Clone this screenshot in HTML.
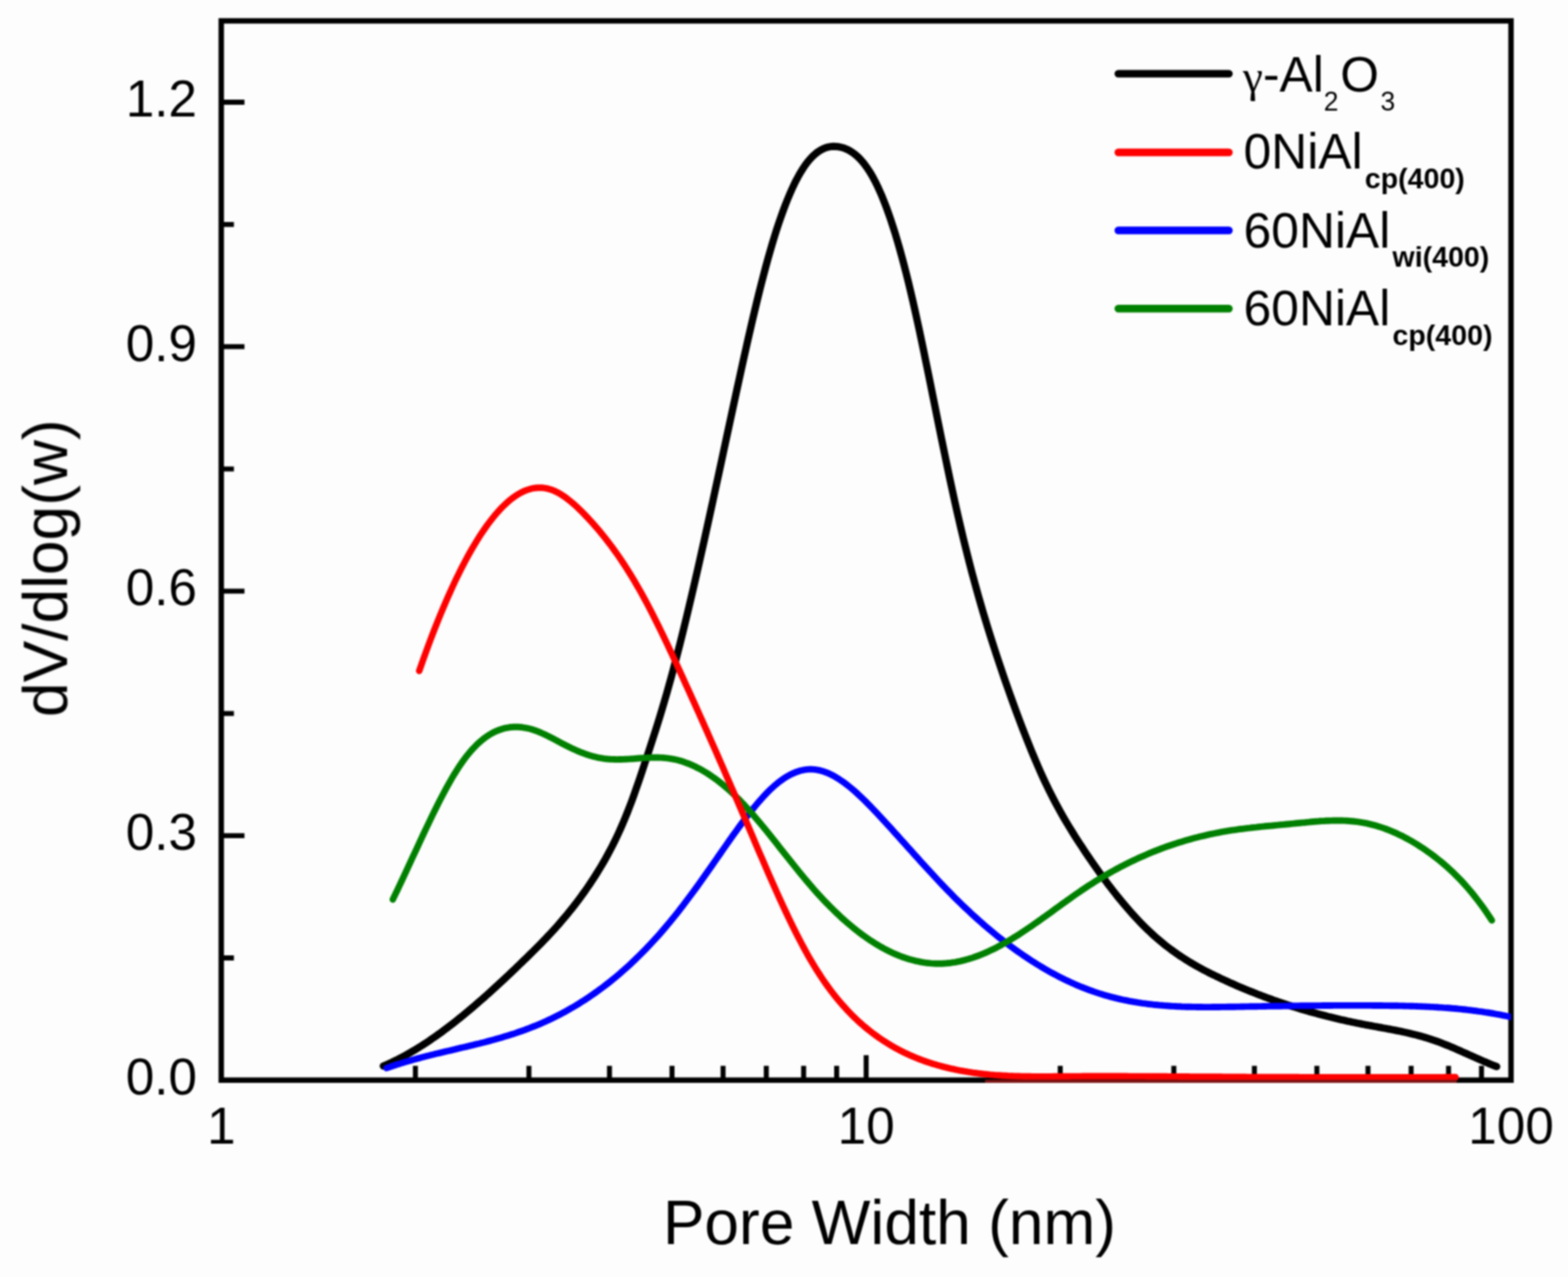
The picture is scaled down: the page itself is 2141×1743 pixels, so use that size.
<!DOCTYPE html>
<html><head><meta charset="utf-8"><title>Pore Width Distribution</title>
<style>
html,body{margin:0;padding:0;background:#fdfdfd;}
body{width:2141px;height:1743px;overflow:hidden;}
svg{display:block;}
text{font-family:"Liberation Sans",sans-serif;fill:#000;}
.tk{font-size:70px;}
.ttl{font-size:85px;}
.lg{font-size:68px;}
.sb{font-size:39px;font-weight:bold;}
.sr{font-size:36px;}
.gm{font-family:"Liberation Serif",serif;font-size:62px;}
</style></head><body>
<svg xmlns="http://www.w3.org/2000/svg" width="2141" height="1743" viewBox="0 0 2141 1743">
<rect x="0" y="0" width="2141" height="1743" fill="#fdfdfd"/>
<g style="filter:blur(1.2px)">
<defs><clipPath id="cp"><rect x="302.1" y="28.5" width="1761.1" height="1451.8"/></clipPath></defs>

<rect x="302.1" y="28.5" width="1761.1" height="1445.8" fill="none" stroke="#000" stroke-width="7.4"/>
<path d="M302.1,1140.6 H333.8 M302.1,806.9 H333.8 M302.1,473.2 H333.8 M302.1,139.5 H333.8 M302.1,1307.5 H319.40000000000003 M302.1,973.8 H319.40000000000003 M302.1,640.1 H319.40000000000003 M302.1,306.4 H319.40000000000003 M1182.7,1474.3 V1440.3 M567.2,1474.3 V1454.8 M722.2,1474.3 V1454.8 M832.2,1474.3 V1454.8 M917.6,1474.3 V1454.8 M987.3,1474.3 V1454.8 M1046.3,1474.3 V1454.8 M1097.3,1474.3 V1454.8 M1142.4,1474.3 V1454.8 M1447.7,1474.3 V1454.8 M1602.8,1474.3 V1454.8 M1712.8,1474.3 V1454.8 M1798.1,1474.3 V1454.8 M1867.9,1474.3 V1454.8 M1926.8,1474.3 V1454.8 M1977.9,1474.3 V1454.8 M2022.9,1474.3 V1454.8" fill="none" stroke="#000" stroke-width="6.8"/>
<g clip-path="url(#cp)" fill="none" stroke-width="8.9" stroke-linecap="round" stroke-linejoin="round">
<path d="M523.4,1455.1 L526.4,1453.8 L529.4,1452.5 L532.4,1451.2 L535.4,1449.8 L538.4,1448.3 L541.4,1446.9 L544.4,1445.3 L547.4,1443.8 L550.4,1442.2 L553.4,1440.6 L556.4,1438.9 L559.4,1437.2 L562.4,1435.4 L565.4,1433.7 L568.4,1431.9 L571.4,1430.0 L574.4,1428.1 L577.4,1426.2 L580.4,1424.3 L583.4,1422.3 L586.4,1420.3 L589.4,1418.2 L592.4,1416.2 L595.4,1414.1 L598.4,1411.9 L601.4,1409.8 L604.4,1407.6 L607.4,1405.3 L610.4,1403.1 L613.4,1400.8 L616.4,1398.5 L619.4,1396.2 L622.4,1393.8 L625.4,1391.4 L628.4,1389.0 L631.4,1386.6 L634.4,1384.1 L637.4,1381.7 L640.4,1379.2 L643.4,1376.6 L646.4,1374.1 L649.4,1371.5 L652.4,1368.9 L655.4,1366.3 L658.4,1363.7 L661.4,1361.1 L664.4,1358.4 L667.4,1355.7 L670.4,1353.0 L673.4,1350.3 L676.4,1347.5 L679.4,1344.8 L682.4,1342.0 L685.4,1339.3 L688.4,1336.5 L691.4,1333.6 L694.4,1330.8 L697.4,1328.0 L700.4,1325.1 L703.4,1322.3 L706.4,1319.4 L709.4,1316.5 L712.4,1313.6 L715.4,1310.7 L718.4,1307.8 L721.4,1304.9 L724.4,1301.9 L727.4,1299.0 L730.4,1296.0 L733.4,1293.0 L736.4,1290.0 L739.4,1286.9 L742.4,1283.8 L745.4,1280.7 L748.4,1277.5 L751.4,1274.3 L754.4,1271.1 L757.4,1267.8 L760.4,1264.5 L763.4,1261.1 L766.4,1257.6 L769.4,1254.1 L772.4,1250.6 L775.4,1246.9 L778.4,1243.2 L781.4,1239.5 L784.4,1235.6 L787.4,1231.7 L790.4,1227.7 L793.4,1223.7 L796.4,1219.5 L799.4,1215.3 L802.4,1211.0 L805.4,1206.6 L808.4,1202.0 L811.4,1197.4 L814.4,1192.7 L817.4,1187.9 L820.4,1183.0 L823.4,1177.9 L826.4,1172.7 L829.4,1167.3 L832.4,1161.7 L835.4,1156.0 L838.4,1150.0 L841.4,1143.9 L844.4,1137.5 L847.4,1130.9 L850.4,1124.0 L853.4,1116.9 L856.4,1109.5 L859.4,1101.8 L862.4,1093.9 L865.4,1085.7 L868.4,1077.2 L871.4,1068.6 L874.4,1059.8 L877.4,1050.9 L880.4,1041.8 L883.4,1032.8 L886.4,1023.7 L889.4,1014.5 L892.4,1005.3 L895.4,995.9 L898.4,986.4 L901.4,976.7 L904.4,966.8 L907.4,956.7 L910.4,946.3 L913.4,935.7 L916.4,924.8 L919.4,913.7 L922.4,902.3 L925.4,890.7 L928.4,878.9 L931.4,867.0 L934.4,854.8 L937.4,842.4 L940.4,829.9 L943.4,817.2 L946.4,804.4 L949.4,791.4 L952.4,778.3 L955.4,765.1 L958.4,751.7 L961.4,738.3 L964.4,724.7 L967.4,711.1 L970.4,697.4 L973.4,683.7 L976.4,669.8 L979.4,656.0 L982.4,642.1 L985.4,628.2 L988.4,614.3 L991.4,600.3 L994.4,586.4 L997.4,572.5 L1000.4,558.6 L1003.4,544.7 L1006.4,530.9 L1009.4,517.2 L1012.4,503.5 L1015.4,489.9 L1018.4,476.5 L1021.4,463.2 L1024.4,450.1 L1027.4,437.2 L1030.4,424.5 L1033.4,412.0 L1036.4,399.8 L1039.4,387.9 L1042.4,376.2 L1045.4,364.9 L1048.4,353.9 L1051.4,343.3 L1054.4,333.0 L1057.4,323.1 L1060.4,313.6 L1063.4,304.5 L1066.4,295.8 L1069.4,287.5 L1072.4,279.5 L1075.4,272.0 L1078.4,264.8 L1081.4,258.0 L1084.4,251.6 L1087.4,245.6 L1090.4,240.0 L1093.4,234.8 L1096.4,230.0 L1099.4,225.5 L1102.4,221.5 L1105.4,217.9 L1108.4,214.6 L1111.4,211.7 L1114.4,209.1 L1117.4,206.9 L1120.4,205.0 L1123.4,203.4 L1126.4,202.1 L1129.4,201.1 L1132.4,200.4 L1135.4,200.0 L1138.4,199.8 L1141.4,199.9 L1144.4,200.2 L1147.4,200.8 L1150.4,201.5 L1153.4,202.5 L1156.4,203.8 L1159.4,205.3 L1162.4,207.1 L1165.4,209.1 L1168.4,211.5 L1171.4,214.1 L1174.4,217.1 L1177.4,220.5 L1180.4,224.2 L1183.4,228.2 L1186.4,232.7 L1189.4,237.5 L1192.4,242.8 L1195.4,248.5 L1198.4,254.6 L1201.4,261.2 L1204.4,268.1 L1207.4,275.6 L1210.4,283.4 L1213.4,291.7 L1216.4,300.4 L1219.4,309.6 L1222.4,319.1 L1225.4,329.1 L1228.4,339.5 L1231.4,350.3 L1234.4,361.6 L1237.4,373.2 L1240.4,385.3 L1243.4,397.8 L1246.4,410.6 L1249.4,423.9 L1252.4,437.5 L1255.4,451.3 L1258.4,465.5 L1261.4,479.8 L1264.4,494.4 L1267.4,509.0 L1270.4,523.8 L1273.4,538.7 L1276.4,553.5 L1279.4,568.4 L1282.4,583.3 L1285.4,598.0 L1288.4,612.6 L1291.4,627.1 L1294.4,641.4 L1297.4,655.6 L1300.4,669.5 L1303.4,683.2 L1306.4,696.6 L1309.4,709.7 L1312.4,722.5 L1315.4,735.1 L1318.4,747.3 L1321.4,759.3 L1324.4,771.0 L1327.4,782.4 L1330.4,793.5 L1333.4,804.4 L1336.4,815.1 L1339.4,825.5 L1342.4,835.8 L1345.4,845.8 L1348.4,855.6 L1351.4,865.2 L1354.4,874.7 L1357.4,884.0 L1360.4,893.2 L1363.4,902.3 L1366.4,911.2 L1369.4,920.1 L1372.4,928.8 L1375.4,937.3 L1378.4,945.8 L1381.4,954.2 L1384.4,962.5 L1387.4,970.7 L1390.4,978.7 L1393.4,986.7 L1396.4,994.6 L1399.4,1002.3 L1402.4,1009.9 L1405.4,1017.4 L1408.4,1024.8 L1411.4,1032.0 L1414.4,1039.1 L1417.4,1046.1 L1420.4,1052.9 L1423.4,1059.6 L1426.4,1066.1 L1429.4,1072.4 L1432.4,1078.6 L1435.4,1084.6 L1438.4,1090.4 L1441.4,1096.1 L1444.4,1101.7 L1447.4,1107.2 L1450.4,1112.5 L1453.4,1117.7 L1456.4,1122.8 L1459.4,1127.8 L1462.4,1132.7 L1465.4,1137.5 L1468.4,1142.3 L1471.4,1146.9 L1474.4,1151.6 L1477.4,1156.1 L1480.4,1160.7 L1483.4,1165.2 L1486.4,1169.6 L1489.4,1174.0 L1492.4,1178.3 L1495.4,1182.6 L1498.4,1186.9 L1501.4,1191.1 L1504.4,1195.2 L1507.4,1199.3 L1510.4,1203.4 L1513.4,1207.4 L1516.4,1211.3 L1519.4,1215.2 L1522.4,1219.0 L1525.4,1222.8 L1528.4,1226.5 L1531.4,1230.2 L1534.4,1233.8 L1537.4,1237.3 L1540.4,1240.8 L1543.4,1244.2 L1546.4,1247.6 L1549.4,1250.9 L1552.4,1254.1 L1555.4,1257.3 L1558.4,1260.4 L1561.4,1263.5 L1564.4,1266.5 L1567.4,1269.4 L1570.4,1272.2 L1573.4,1275.0 L1576.4,1277.7 L1579.4,1280.4 L1582.4,1282.9 L1585.4,1285.4 L1588.4,1287.9 L1591.4,1290.3 L1594.4,1292.6 L1597.4,1294.9 L1600.4,1297.1 L1603.4,1299.3 L1606.4,1301.4 L1609.4,1303.5 L1612.4,1305.5 L1615.4,1307.4 L1618.4,1309.4 L1621.4,1311.2 L1624.4,1313.1 L1627.4,1314.9 L1630.4,1316.6 L1633.4,1318.3 L1636.4,1320.0 L1639.4,1321.7 L1642.4,1323.3 L1645.4,1324.9 L1648.4,1326.4 L1651.4,1328.0 L1654.4,1329.5 L1657.4,1330.9 L1660.4,1332.4 L1663.4,1333.8 L1666.4,1335.3 L1669.4,1336.7 L1672.4,1338.0 L1675.4,1339.4 L1678.4,1340.8 L1681.4,1342.1 L1684.4,1343.4 L1687.4,1344.8 L1690.4,1346.1 L1693.4,1347.3 L1696.4,1348.6 L1699.4,1349.9 L1702.4,1351.1 L1705.4,1352.3 L1708.4,1353.5 L1711.4,1354.7 L1714.4,1355.9 L1717.4,1357.1 L1720.4,1358.2 L1723.4,1359.4 L1726.4,1360.5 L1729.4,1361.6 L1732.4,1362.7 L1735.4,1363.8 L1738.4,1364.9 L1741.4,1365.9 L1744.4,1367.0 L1747.4,1368.0 L1750.4,1369.0 L1753.4,1370.0 L1756.4,1371.0 L1759.4,1372.0 L1762.4,1372.9 L1765.4,1373.9 L1768.4,1374.8 L1771.4,1375.8 L1774.4,1376.7 L1777.4,1377.6 L1780.4,1378.5 L1783.4,1379.3 L1786.4,1380.2 L1789.4,1381.1 L1792.4,1381.9 L1795.4,1382.7 L1798.4,1383.5 L1801.4,1384.4 L1804.4,1385.1 L1807.4,1385.9 L1810.4,1386.7 L1813.4,1387.5 L1816.4,1388.2 L1819.4,1388.9 L1822.4,1389.7 L1825.4,1390.4 L1828.4,1391.1 L1831.4,1391.8 L1834.4,1392.4 L1837.4,1393.1 L1840.4,1393.8 L1843.4,1394.4 L1846.4,1395.1 L1849.4,1395.7 L1852.4,1396.3 L1855.4,1396.9 L1858.4,1397.5 L1861.4,1398.1 L1864.4,1398.7 L1867.4,1399.2 L1870.4,1399.8 L1873.4,1400.3 L1876.4,1400.9 L1879.4,1401.4 L1882.4,1402.0 L1885.4,1402.5 L1888.4,1403.1 L1891.4,1403.6 L1894.4,1404.2 L1897.4,1404.7 L1900.4,1405.3 L1903.4,1405.9 L1906.4,1406.5 L1909.4,1407.1 L1912.4,1407.7 L1915.4,1408.3 L1918.4,1409.0 L1921.4,1409.7 L1924.4,1410.3 L1927.4,1411.1 L1930.4,1411.8 L1933.4,1412.5 L1936.4,1413.3 L1939.4,1414.1 L1942.4,1415.0 L1945.4,1415.9 L1948.4,1416.8 L1951.4,1417.7 L1954.4,1418.7 L1957.4,1419.7 L1960.4,1420.7 L1963.4,1421.8 L1966.4,1422.9 L1969.4,1424.1 L1972.4,1425.3 L1975.4,1426.5 L1978.4,1427.7 L1981.4,1429.0 L1984.4,1430.2 L1987.4,1431.5 L1990.4,1432.8 L1993.4,1434.1 L1996.4,1435.5 L1999.4,1436.8 L2002.4,1438.1 L2005.4,1439.5 L2008.4,1440.8 L2011.4,1442.2 L2014.4,1443.5 L2017.4,1444.8 L2020.4,1446.2 L2023.4,1447.5 L2026.4,1448.8 L2029.4,1450.0 L2032.4,1451.3 L2035.4,1452.6 L2038.4,1453.8 L2041.4,1455.0 L2043.6,1455.8" stroke="#000000" stroke-width="10"/>
<path d="M527.8,1457.9 L530.8,1456.9 L533.8,1455.8 L536.8,1454.8 L539.8,1453.8 L542.8,1452.8 L545.8,1451.9 L548.8,1450.9 L551.8,1450.0 L554.8,1449.1 L557.8,1448.3 L560.8,1447.4 L563.8,1446.5 L566.8,1445.7 L569.8,1444.9 L572.8,1444.1 L575.8,1443.3 L578.8,1442.5 L581.8,1441.7 L584.8,1441.0 L587.8,1440.2 L590.8,1439.5 L593.8,1438.7 L596.8,1438.0 L599.8,1437.3 L602.8,1436.6 L605.8,1435.9 L608.8,1435.2 L611.8,1434.5 L614.8,1433.8 L617.8,1433.1 L620.8,1432.4 L623.8,1431.6 L626.8,1430.9 L629.8,1430.2 L632.8,1429.5 L635.8,1428.8 L638.8,1428.1 L641.8,1427.4 L644.8,1426.7 L647.8,1425.9 L650.8,1425.2 L653.8,1424.5 L656.8,1423.7 L659.8,1423.0 L662.8,1422.2 L665.8,1421.4 L668.8,1420.6 L671.8,1419.8 L674.8,1419.0 L677.8,1418.1 L680.8,1417.3 L683.8,1416.4 L686.8,1415.5 L689.8,1414.6 L692.8,1413.7 L695.8,1412.8 L698.8,1411.8 L701.8,1410.9 L704.8,1409.9 L707.8,1408.8 L710.8,1407.8 L713.8,1406.7 L716.8,1405.7 L719.8,1404.5 L722.8,1403.4 L725.8,1402.2 L728.8,1401.0 L731.8,1399.8 L734.8,1398.6 L737.8,1397.3 L740.8,1396.0 L743.8,1394.7 L746.8,1393.3 L749.8,1391.9 L752.8,1390.5 L755.8,1389.0 L758.8,1387.5 L761.8,1386.0 L764.8,1384.5 L767.8,1382.9 L770.8,1381.3 L773.8,1379.6 L776.8,1377.9 L779.8,1376.2 L782.8,1374.5 L785.8,1372.7 L788.8,1370.9 L791.8,1369.0 L794.8,1367.1 L797.8,1365.2 L800.8,1363.2 L803.8,1361.3 L806.8,1359.2 L809.8,1357.1 L812.8,1355.0 L815.8,1352.9 L818.8,1350.7 L821.8,1348.5 L824.8,1346.2 L827.8,1343.9 L830.8,1341.6 L833.8,1339.2 L836.8,1336.8 L839.8,1334.3 L842.8,1331.8 L845.8,1329.3 L848.8,1326.7 L851.8,1324.0 L854.8,1321.4 L857.8,1318.7 L860.8,1315.9 L863.8,1313.1 L866.8,1310.2 L869.8,1307.3 L872.8,1304.4 L875.8,1301.4 L878.8,1298.4 L881.8,1295.3 L884.8,1292.2 L887.8,1289.0 L890.8,1285.8 L893.8,1282.5 L896.8,1279.2 L899.8,1275.9 L902.8,1272.5 L905.8,1269.0 L908.8,1265.5 L911.8,1261.9 L914.8,1258.3 L917.8,1254.7 L920.8,1251.0 L923.8,1247.2 L926.8,1243.4 L929.8,1239.5 L932.8,1235.7 L935.8,1231.7 L938.8,1227.7 L941.8,1223.7 L944.8,1219.7 L947.8,1215.6 L950.8,1211.5 L953.8,1207.3 L956.8,1203.1 L959.8,1198.9 L962.8,1194.7 L965.8,1190.4 L968.8,1186.2 L971.8,1181.9 L974.8,1177.5 L977.8,1173.2 L980.8,1168.9 L983.8,1164.6 L986.8,1160.3 L989.8,1156.0 L992.8,1151.7 L995.8,1147.4 L998.8,1143.2 L1001.8,1138.9 L1004.8,1134.8 L1007.8,1130.6 L1010.8,1126.5 L1013.8,1122.5 L1016.8,1118.5 L1019.8,1114.5 L1022.8,1110.7 L1025.8,1106.8 L1028.8,1103.1 L1031.8,1099.5 L1034.8,1095.9 L1037.8,1092.5 L1040.8,1089.1 L1043.8,1085.8 L1046.8,1082.7 L1049.8,1079.7 L1052.8,1076.7 L1055.8,1074.0 L1058.8,1071.3 L1061.8,1068.8 L1064.8,1066.5 L1067.8,1064.3 L1070.8,1062.2 L1073.8,1060.3 L1076.8,1058.6 L1079.8,1057.0 L1082.8,1055.6 L1085.8,1054.3 L1088.8,1053.2 L1091.8,1052.2 L1094.8,1051.5 L1097.8,1050.8 L1100.8,1050.4 L1103.8,1050.1 L1106.8,1050.0 L1109.8,1050.1 L1112.8,1050.4 L1115.8,1050.8 L1118.8,1051.4 L1121.8,1052.2 L1124.8,1053.1 L1127.8,1054.2 L1130.8,1055.4 L1133.8,1056.8 L1136.8,1058.3 L1139.8,1059.9 L1142.8,1061.7 L1145.8,1063.6 L1148.8,1065.6 L1151.8,1067.7 L1154.8,1069.9 L1157.8,1072.2 L1160.8,1074.6 L1163.8,1077.1 L1166.8,1079.7 L1169.8,1082.4 L1172.8,1085.2 L1175.8,1088.0 L1178.8,1090.9 L1181.8,1093.8 L1184.8,1096.8 L1187.8,1099.9 L1190.8,1103.0 L1193.8,1106.1 L1196.8,1109.3 L1199.8,1112.5 L1202.8,1115.7 L1205.8,1119.0 L1208.8,1122.2 L1211.8,1125.5 L1214.8,1128.8 L1217.8,1132.1 L1220.8,1135.4 L1223.8,1138.8 L1226.8,1142.1 L1229.8,1145.4 L1232.8,1148.8 L1235.8,1152.1 L1238.8,1155.4 L1241.8,1158.8 L1244.8,1162.1 L1247.8,1165.4 L1250.8,1168.8 L1253.8,1172.1 L1256.8,1175.4 L1259.8,1178.7 L1262.8,1182.0 L1265.8,1185.3 L1268.8,1188.6 L1271.8,1191.8 L1274.8,1195.1 L1277.8,1198.3 L1280.8,1201.5 L1283.8,1204.7 L1286.8,1207.8 L1289.8,1211.0 L1292.8,1214.1 L1295.8,1217.2 L1298.8,1220.2 L1301.8,1223.3 L1304.8,1226.3 L1307.8,1229.2 L1310.8,1232.2 L1313.8,1235.1 L1316.8,1238.0 L1319.8,1240.8 L1322.8,1243.6 L1325.8,1246.4 L1328.8,1249.2 L1331.8,1251.9 L1334.8,1254.6 L1337.8,1257.3 L1340.8,1259.9 L1343.8,1262.6 L1346.8,1265.1 L1349.8,1267.7 L1352.8,1270.2 L1355.8,1272.7 L1358.8,1275.1 L1361.8,1277.6 L1364.8,1280.0 L1367.8,1282.3 L1370.8,1284.7 L1373.8,1287.0 L1376.8,1289.2 L1379.8,1291.5 L1382.8,1293.7 L1385.8,1295.9 L1388.8,1298.0 L1391.8,1300.1 L1394.8,1302.2 L1397.8,1304.3 L1400.8,1306.3 L1403.8,1308.3 L1406.8,1310.3 L1409.8,1312.2 L1412.8,1314.1 L1415.8,1316.0 L1418.8,1317.8 L1421.8,1319.6 L1424.8,1321.4 L1427.8,1323.2 L1430.8,1324.9 L1433.8,1326.6 L1436.8,1328.2 L1439.8,1329.8 L1442.8,1331.4 L1445.8,1333.0 L1448.8,1334.5 L1451.8,1336.0 L1454.8,1337.5 L1457.8,1338.9 L1460.8,1340.3 L1463.8,1341.7 L1466.8,1343.0 L1469.8,1344.3 L1472.8,1345.6 L1475.8,1346.8 L1478.8,1348.0 L1481.8,1349.2 L1484.8,1350.3 L1487.8,1351.5 L1490.8,1352.5 L1493.8,1353.6 L1496.8,1354.6 L1499.8,1355.6 L1502.8,1356.6 L1505.8,1357.5 L1508.8,1358.4 L1511.8,1359.2 L1514.8,1360.1 L1517.8,1360.9 L1520.8,1361.6 L1523.8,1362.4 L1526.8,1363.1 L1529.8,1363.8 L1532.8,1364.5 L1535.8,1365.1 L1538.8,1365.7 L1541.8,1366.3 L1544.8,1366.8 L1547.8,1367.4 L1550.8,1367.9 L1553.8,1368.4 L1556.8,1368.8 L1559.8,1369.3 L1562.8,1369.7 L1565.8,1370.1 L1568.8,1370.5 L1571.8,1370.8 L1574.8,1371.2 L1577.8,1371.5 L1580.8,1371.8 L1583.8,1372.1 L1586.8,1372.3 L1589.8,1372.6 L1592.8,1372.8 L1595.8,1373.0 L1598.8,1373.2 L1601.8,1373.4 L1604.8,1373.5 L1607.8,1373.7 L1610.8,1373.8 L1613.8,1374.0 L1616.8,1374.1 L1619.8,1374.2 L1622.8,1374.3 L1625.8,1374.3 L1628.8,1374.4 L1631.8,1374.4 L1634.8,1374.5 L1637.8,1374.5 L1640.8,1374.5 L1643.8,1374.6 L1646.8,1374.6 L1649.8,1374.6 L1652.8,1374.6 L1655.8,1374.5 L1658.8,1374.5 L1661.8,1374.5 L1664.8,1374.5 L1667.8,1374.4 L1670.8,1374.4 L1673.8,1374.4 L1676.8,1374.3 L1679.8,1374.3 L1682.8,1374.2 L1685.8,1374.2 L1688.8,1374.1 L1691.8,1374.1 L1694.8,1374.0 L1697.8,1374.0 L1700.8,1373.9 L1703.8,1373.9 L1706.8,1373.8 L1709.8,1373.8 L1712.8,1373.7 L1715.8,1373.7 L1718.8,1373.6 L1721.8,1373.6 L1724.8,1373.5 L1727.8,1373.5 L1730.8,1373.4 L1733.8,1373.4 L1736.8,1373.3 L1739.8,1373.3 L1742.8,1373.3 L1745.8,1373.2 L1748.8,1373.2 L1751.8,1373.1 L1754.8,1373.1 L1757.8,1373.0 L1760.8,1373.0 L1763.8,1373.0 L1766.8,1372.9 L1769.8,1372.9 L1772.8,1372.9 L1775.8,1372.8 L1778.8,1372.8 L1781.8,1372.8 L1784.8,1372.7 L1787.8,1372.7 L1790.8,1372.7 L1793.8,1372.6 L1796.8,1372.6 L1799.8,1372.6 L1802.8,1372.6 L1805.8,1372.5 L1808.8,1372.5 L1811.8,1372.5 L1814.8,1372.5 L1817.8,1372.5 L1820.8,1372.4 L1823.8,1372.4 L1826.8,1372.4 L1829.8,1372.4 L1832.8,1372.4 L1835.8,1372.4 L1838.8,1372.4 L1841.8,1372.4 L1844.8,1372.4 L1847.8,1372.4 L1850.8,1372.4 L1853.8,1372.4 L1856.8,1372.4 L1859.8,1372.4 L1862.8,1372.4 L1865.8,1372.4 L1868.8,1372.4 L1871.8,1372.4 L1874.8,1372.5 L1877.8,1372.5 L1880.8,1372.5 L1883.8,1372.5 L1886.8,1372.5 L1889.8,1372.6 L1892.8,1372.6 L1895.8,1372.6 L1898.8,1372.7 L1901.8,1372.7 L1904.8,1372.8 L1907.8,1372.8 L1910.8,1372.9 L1913.8,1372.9 L1916.8,1373.0 L1919.8,1373.1 L1922.8,1373.1 L1925.8,1373.2 L1928.8,1373.3 L1931.8,1373.4 L1934.8,1373.5 L1937.8,1373.6 L1940.8,1373.7 L1943.8,1373.9 L1946.8,1374.0 L1949.8,1374.1 L1952.8,1374.3 L1955.8,1374.4 L1958.8,1374.6 L1961.8,1374.8 L1964.8,1375.0 L1967.8,1375.1 L1970.8,1375.4 L1973.8,1375.6 L1976.8,1375.8 L1979.8,1376.0 L1982.8,1376.3 L1985.8,1376.5 L1988.8,1376.8 L1991.8,1377.1 L1994.8,1377.4 L1997.8,1377.7 L2000.8,1378.0 L2003.8,1378.4 L2006.8,1378.7 L2009.8,1379.1 L2012.8,1379.5 L2015.8,1379.8 L2018.8,1380.3 L2021.8,1380.7 L2024.8,1381.1 L2027.8,1381.6 L2030.8,1382.0 L2033.8,1382.5 L2036.8,1383.0 L2039.8,1383.5 L2042.8,1384.1 L2045.8,1384.6 L2048.8,1385.2 L2051.8,1385.8 L2054.8,1386.4 L2057.8,1387.0 L2060.8,1387.7 L2063.8,1388.3 L2066.8,1389.0 L2069.8,1389.7 L2072.8,1390.4 L2075.0,1391.0" stroke="#0000ff"/>
<path d="M536.4,1227.7 L539.4,1221.4 L542.4,1215.2 L545.4,1208.8 L548.4,1202.5 L551.4,1196.1 L554.4,1189.6 L557.4,1183.2 L560.4,1176.7 L563.4,1170.2 L566.4,1163.8 L569.4,1157.3 L572.4,1150.8 L575.4,1144.4 L578.4,1138.0 L581.4,1131.7 L584.4,1125.4 L587.4,1119.1 L590.4,1112.9 L593.4,1106.8 L596.4,1100.7 L599.4,1094.8 L602.4,1089.0 L605.4,1083.2 L608.4,1077.6 L611.4,1072.2 L614.4,1066.8 L617.4,1061.6 L620.4,1056.6 L623.4,1051.8 L626.4,1047.1 L629.4,1042.7 L632.4,1038.4 L635.4,1034.3 L638.4,1030.5 L641.4,1026.9 L644.4,1023.4 L647.4,1020.2 L650.4,1017.1 L653.4,1014.3 L656.4,1011.6 L659.4,1009.1 L662.4,1006.8 L665.4,1004.7 L668.4,1002.8 L671.4,1001.0 L674.4,999.4 L677.4,998.0 L680.4,996.8 L683.4,995.7 L686.4,994.7 L689.4,993.9 L692.4,993.3 L695.4,992.8 L698.4,992.5 L701.4,992.3 L704.4,992.2 L707.4,992.3 L710.4,992.5 L713.4,992.8 L716.4,993.3 L719.4,993.8 L722.4,994.5 L725.4,995.3 L728.4,996.3 L731.4,997.3 L734.4,998.4 L737.4,999.7 L740.4,1001.0 L743.4,1002.3 L746.4,1003.8 L749.4,1005.2 L752.4,1006.8 L755.4,1008.3 L758.4,1009.9 L761.4,1011.5 L764.4,1013.1 L767.4,1014.7 L770.4,1016.2 L773.4,1017.8 L776.4,1019.3 L779.4,1020.8 L782.4,1022.2 L785.4,1023.5 L788.4,1024.8 L791.4,1026.1 L794.4,1027.3 L797.4,1028.4 L800.4,1029.5 L803.4,1030.5 L806.4,1031.4 L809.4,1032.3 L812.4,1033.0 L815.4,1033.8 L818.4,1034.4 L821.4,1034.9 L824.4,1035.4 L827.4,1035.8 L830.4,1036.1 L833.4,1036.3 L836.4,1036.4 L839.4,1036.5 L842.4,1036.6 L845.4,1036.5 L848.4,1036.5 L851.4,1036.4 L854.4,1036.2 L857.4,1036.1 L860.4,1035.9 L863.4,1035.7 L866.4,1035.5 L869.4,1035.2 L872.4,1035.0 L875.4,1034.8 L878.4,1034.6 L881.4,1034.4 L884.4,1034.3 L887.4,1034.1 L890.4,1034.0 L893.4,1034.0 L896.4,1034.0 L899.4,1034.0 L902.4,1034.1 L905.4,1034.3 L908.4,1034.6 L911.4,1034.9 L914.4,1035.3 L917.4,1035.8 L920.4,1036.4 L923.4,1037.0 L926.4,1037.8 L929.4,1038.6 L932.4,1039.5 L935.4,1040.6 L938.4,1041.7 L941.4,1042.8 L944.4,1044.1 L947.4,1045.5 L950.4,1046.9 L953.4,1048.4 L956.4,1050.0 L959.4,1051.7 L962.4,1053.5 L965.4,1055.3 L968.4,1057.3 L971.4,1059.3 L974.4,1061.4 L977.4,1063.5 L980.4,1065.8 L983.4,1068.1 L986.4,1070.5 L989.4,1073.0 L992.4,1075.6 L995.4,1078.3 L998.4,1081.0 L1001.4,1083.8 L1004.4,1086.7 L1007.4,1089.6 L1010.4,1092.7 L1013.4,1095.8 L1016.4,1098.9 L1019.4,1102.2 L1022.4,1105.5 L1025.4,1108.9 L1028.4,1112.3 L1031.4,1115.8 L1034.4,1119.3 L1037.4,1122.9 L1040.4,1126.5 L1043.4,1130.1 L1046.4,1133.8 L1049.4,1137.5 L1052.4,1141.3 L1055.4,1145.0 L1058.4,1148.8 L1061.4,1152.6 L1064.4,1156.4 L1067.4,1160.2 L1070.4,1164.0 L1073.4,1167.8 L1076.4,1171.5 L1079.4,1175.3 L1082.4,1179.1 L1085.4,1182.8 L1088.4,1186.6 L1091.4,1190.3 L1094.4,1193.9 L1097.4,1197.5 L1100.4,1201.1 L1103.4,1204.7 L1106.4,1208.2 L1109.4,1211.7 L1112.4,1215.1 L1115.4,1218.4 L1118.4,1221.7 L1121.4,1225.0 L1124.4,1228.2 L1127.4,1231.3 L1130.4,1234.4 L1133.4,1237.5 L1136.4,1240.4 L1139.4,1243.4 L1142.4,1246.3 L1145.4,1249.1 L1148.4,1251.9 L1151.4,1254.6 L1154.4,1257.3 L1157.4,1259.9 L1160.4,1262.4 L1163.4,1264.9 L1166.4,1267.4 L1169.4,1269.7 L1172.4,1272.1 L1175.4,1274.3 L1178.4,1276.6 L1181.4,1278.7 L1184.4,1280.8 L1187.4,1282.9 L1190.4,1284.8 L1193.4,1286.8 L1196.4,1288.6 L1199.4,1290.4 L1202.4,1292.2 L1205.4,1293.8 L1208.4,1295.5 L1211.4,1297.0 L1214.4,1298.5 L1217.4,1300.0 L1220.4,1301.3 L1223.4,1302.6 L1226.4,1303.9 L1229.4,1305.1 L1232.4,1306.2 L1235.4,1307.3 L1238.4,1308.2 L1241.4,1309.2 L1244.4,1310.0 L1247.4,1310.8 L1250.4,1311.6 L1253.4,1312.2 L1256.4,1312.8 L1259.4,1313.4 L1262.4,1313.9 L1265.4,1314.3 L1268.4,1314.6 L1271.4,1314.9 L1274.4,1315.1 L1277.4,1315.2 L1280.4,1315.3 L1283.4,1315.2 L1286.4,1315.2 L1289.4,1315.0 L1292.4,1314.8 L1295.4,1314.5 L1298.4,1314.2 L1301.4,1313.7 L1304.4,1313.3 L1307.4,1312.7 L1310.4,1312.1 L1313.4,1311.4 L1316.4,1310.7 L1319.4,1309.8 L1322.4,1309.0 L1325.4,1308.1 L1328.4,1307.1 L1331.4,1306.0 L1334.4,1305.0 L1337.4,1303.8 L1340.4,1302.6 L1343.4,1301.4 L1346.4,1300.1 L1349.4,1298.7 L1352.4,1297.3 L1355.4,1295.9 L1358.4,1294.4 L1361.4,1292.9 L1364.4,1291.3 L1367.4,1289.7 L1370.4,1288.0 L1373.4,1286.3 L1376.4,1284.6 L1379.4,1282.8 L1382.4,1281.0 L1385.4,1279.1 L1388.4,1277.3 L1391.4,1275.4 L1394.4,1273.4 L1397.4,1271.4 L1400.4,1269.4 L1403.4,1267.4 L1406.4,1265.4 L1409.4,1263.3 L1412.4,1261.2 L1415.4,1259.1 L1418.4,1257.0 L1421.4,1254.9 L1424.4,1252.7 L1427.4,1250.6 L1430.4,1248.4 L1433.4,1246.3 L1436.4,1244.1 L1439.4,1241.9 L1442.4,1239.7 L1445.4,1237.6 L1448.4,1235.4 L1451.4,1233.2 L1454.4,1231.1 L1457.4,1228.9 L1460.4,1226.8 L1463.4,1224.7 L1466.4,1222.5 L1469.4,1220.4 L1472.4,1218.4 L1475.4,1216.3 L1478.4,1214.3 L1481.4,1212.3 L1484.4,1210.3 L1487.4,1208.3 L1490.4,1206.4 L1493.4,1204.5 L1496.4,1202.6 L1499.4,1200.7 L1502.4,1198.9 L1505.4,1197.1 L1508.4,1195.3 L1511.4,1193.6 L1514.4,1191.9 L1517.4,1190.2 L1520.4,1188.5 L1523.4,1186.8 L1526.4,1185.2 L1529.4,1183.6 L1532.4,1182.1 L1535.4,1180.5 L1538.4,1179.0 L1541.4,1177.5 L1544.4,1176.0 L1547.4,1174.6 L1550.4,1173.2 L1553.4,1171.8 L1556.4,1170.4 L1559.4,1169.1 L1562.4,1167.8 L1565.4,1166.5 L1568.4,1165.2 L1571.4,1163.9 L1574.4,1162.7 L1577.4,1161.5 L1580.4,1160.3 L1583.4,1159.2 L1586.4,1158.0 L1589.4,1156.9 L1592.4,1155.8 L1595.4,1154.8 L1598.4,1153.7 L1601.4,1152.7 L1604.4,1151.7 L1607.4,1150.8 L1610.4,1149.8 L1613.4,1148.9 L1616.4,1148.0 L1619.4,1147.1 L1622.4,1146.2 L1625.4,1145.4 L1628.4,1144.5 L1631.4,1143.7 L1634.4,1143.0 L1637.4,1142.2 L1640.4,1141.5 L1643.4,1140.8 L1646.4,1140.1 L1649.4,1139.4 L1652.4,1138.7 L1655.4,1138.1 L1658.4,1137.5 L1661.4,1136.9 L1664.4,1136.3 L1667.4,1135.7 L1670.4,1135.2 L1673.4,1134.7 L1676.4,1134.2 L1679.4,1133.7 L1682.4,1133.2 L1685.4,1132.8 L1688.4,1132.4 L1691.4,1131.9 L1694.4,1131.5 L1697.4,1131.2 L1700.4,1130.8 L1703.4,1130.4 L1706.4,1130.1 L1709.4,1129.7 L1712.4,1129.4 L1715.4,1129.1 L1718.4,1128.7 L1721.4,1128.4 L1724.4,1128.1 L1727.4,1127.8 L1730.4,1127.5 L1733.4,1127.2 L1736.4,1127.0 L1739.4,1126.7 L1742.4,1126.4 L1745.4,1126.1 L1748.4,1125.8 L1751.4,1125.6 L1754.4,1125.3 L1757.4,1125.0 L1760.4,1124.7 L1763.4,1124.4 L1766.4,1124.1 L1769.4,1123.8 L1772.4,1123.5 L1775.4,1123.2 L1778.4,1122.9 L1781.4,1122.7 L1784.4,1122.4 L1787.4,1122.1 L1790.4,1121.8 L1793.4,1121.5 L1796.4,1121.3 L1799.4,1121.1 L1802.4,1120.8 L1805.4,1120.6 L1808.4,1120.5 L1811.4,1120.3 L1814.4,1120.2 L1817.4,1120.1 L1820.4,1120.0 L1823.4,1120.0 L1826.4,1119.9 L1829.4,1120.0 L1832.4,1120.0 L1835.4,1120.1 L1838.4,1120.3 L1841.4,1120.5 L1844.4,1120.7 L1847.4,1121.0 L1850.4,1121.3 L1853.4,1121.7 L1856.4,1122.1 L1859.4,1122.6 L1862.4,1123.1 L1865.4,1123.7 L1868.4,1124.4 L1871.4,1125.1 L1874.4,1125.8 L1877.4,1126.6 L1880.4,1127.5 L1883.4,1128.4 L1886.4,1129.4 L1889.4,1130.4 L1892.4,1131.5 L1895.4,1132.7 L1898.4,1133.9 L1901.4,1135.1 L1904.4,1136.4 L1907.4,1137.7 L1910.4,1139.2 L1913.4,1140.6 L1916.4,1142.1 L1919.4,1143.7 L1922.4,1145.3 L1925.4,1147.0 L1928.4,1148.7 L1931.4,1150.5 L1934.4,1152.3 L1937.4,1154.2 L1940.4,1156.2 L1943.4,1158.1 L1946.4,1160.2 L1949.4,1162.3 L1952.4,1164.4 L1955.4,1166.6 L1958.4,1168.9 L1961.4,1171.2 L1964.4,1173.6 L1967.4,1176.0 L1970.4,1178.5 L1973.4,1181.1 L1976.4,1183.7 L1979.4,1186.5 L1982.4,1189.3 L1985.4,1192.1 L1988.4,1195.1 L1991.4,1198.1 L1994.4,1201.2 L1997.4,1204.4 L2000.4,1207.7 L2003.4,1211.1 L2006.4,1214.6 L2009.4,1218.2 L2012.4,1221.9 L2015.4,1225.7 L2018.4,1229.6 L2021.4,1233.6 L2024.4,1237.7 L2027.4,1241.9 L2030.4,1246.3 L2033.4,1250.8 L2036.4,1255.3 L2037.0,1256.3" stroke="#008000"/>
<path d="M572.4,915.7 L575.4,907.2 L578.4,898.7 L581.4,890.5 L584.4,882.3 L587.4,874.3 L590.4,866.4 L593.4,858.7 L596.4,851.1 L599.4,843.7 L602.4,836.3 L605.4,829.2 L608.4,822.2 L611.4,815.3 L614.4,808.6 L617.4,802.0 L620.4,795.5 L623.4,789.2 L626.4,783.1 L629.4,777.1 L632.4,771.2 L635.4,765.5 L638.4,759.9 L641.4,754.5 L644.4,749.3 L647.4,744.2 L650.4,739.2 L653.4,734.4 L656.4,729.7 L659.4,725.2 L662.4,720.9 L665.4,716.6 L668.4,712.6 L671.4,708.7 L674.4,705.0 L677.4,701.4 L680.4,698.0 L683.4,694.7 L686.4,691.6 L689.4,688.7 L692.4,685.9 L695.4,683.3 L698.4,680.9 L701.4,678.7 L704.4,676.6 L707.4,674.7 L710.4,673.0 L713.4,671.4 L716.4,670.0 L719.4,668.9 L722.4,667.9 L725.4,667.0 L728.4,666.4 L731.4,666.0 L734.4,665.7 L737.4,665.7 L740.4,665.8 L743.4,666.1 L746.4,666.6 L749.4,667.4 L752.4,668.3 L755.4,669.4 L758.4,670.7 L761.4,672.2 L764.4,673.9 L767.4,675.7 L770.4,677.7 L773.4,679.9 L776.4,682.2 L779.4,684.6 L782.4,687.1 L785.4,689.8 L788.4,692.6 L791.4,695.4 L794.4,698.4 L797.4,701.4 L800.4,704.6 L803.4,707.7 L806.4,711.0 L809.4,714.3 L812.4,717.7 L815.4,721.2 L818.4,724.7 L821.4,728.3 L824.4,732.0 L827.4,735.8 L830.4,739.7 L833.4,743.6 L836.4,747.6 L839.4,751.8 L842.4,756.0 L845.4,760.3 L848.4,764.7 L851.4,769.3 L854.4,773.9 L857.4,778.6 L860.4,783.4 L863.4,788.3 L866.4,793.3 L869.4,798.4 L872.4,803.6 L875.4,808.9 L878.4,814.4 L881.4,819.9 L884.4,825.5 L887.4,831.2 L890.4,837.0 L893.4,842.9 L896.4,848.9 L899.4,855.0 L902.4,861.1 L905.4,867.3 L908.4,873.6 L911.4,879.9 L914.4,886.3 L917.4,892.7 L920.4,899.1 L923.4,905.6 L926.4,912.1 L929.4,918.6 L932.4,925.2 L935.4,931.8 L938.4,938.3 L941.4,944.9 L944.4,951.6 L947.4,958.2 L950.4,964.9 L953.4,971.5 L956.4,978.2 L959.4,984.9 L962.4,991.7 L965.4,998.4 L968.4,1005.2 L971.4,1012.0 L974.4,1018.7 L977.4,1025.6 L980.4,1032.4 L983.4,1039.2 L986.4,1046.1 L989.4,1053.0 L992.4,1059.9 L995.4,1066.8 L998.4,1073.7 L1001.4,1080.6 L1004.4,1087.6 L1007.4,1094.5 L1010.4,1101.5 L1013.4,1108.5 L1016.4,1115.5 L1019.4,1122.5 L1022.4,1129.6 L1025.4,1136.6 L1028.4,1143.6 L1031.4,1150.7 L1034.4,1157.7 L1037.4,1164.7 L1040.4,1171.6 L1043.4,1178.6 L1046.4,1185.5 L1049.4,1192.4 L1052.4,1199.2 L1055.4,1206.0 L1058.4,1212.8 L1061.4,1219.5 L1064.4,1226.1 L1067.4,1232.6 L1070.4,1239.1 L1073.4,1245.5 L1076.4,1251.8 L1079.4,1258.1 L1082.4,1264.2 L1085.4,1270.3 L1088.4,1276.2 L1091.4,1282.1 L1094.4,1287.8 L1097.4,1293.4 L1100.4,1298.9 L1103.4,1304.3 L1106.4,1309.5 L1109.4,1314.6 L1112.4,1319.5 L1115.4,1324.4 L1118.4,1329.0 L1121.4,1333.6 L1124.4,1338.1 L1127.4,1342.4 L1130.4,1346.6 L1133.4,1350.7 L1136.4,1354.6 L1139.4,1358.5 L1142.4,1362.2 L1145.4,1365.9 L1148.4,1369.4 L1151.4,1372.8 L1154.4,1376.1 L1157.4,1379.4 L1160.4,1382.5 L1163.4,1385.6 L1166.4,1388.5 L1169.4,1391.4 L1172.4,1394.2 L1175.4,1396.9 L1178.4,1399.5 L1181.4,1402.0 L1184.4,1404.5 L1187.4,1406.9 L1190.4,1409.2 L1193.4,1411.5 L1196.4,1413.7 L1199.4,1415.8 L1202.4,1417.9 L1205.4,1419.9 L1208.4,1421.8 L1211.4,1423.7 L1214.4,1425.6 L1217.4,1427.4 L1220.4,1429.1 L1223.4,1430.8 L1226.4,1432.4 L1229.4,1434.0 L1232.4,1435.5 L1235.4,1437.0 L1238.4,1438.4 L1241.4,1439.8 L1244.4,1441.1 L1247.4,1442.4 L1250.4,1443.6 L1253.4,1444.8 L1256.4,1446.0 L1259.4,1447.1 L1262.4,1448.2 L1265.4,1449.3 L1268.4,1450.3 L1271.4,1451.2 L1274.4,1452.2 L1277.4,1453.1 L1280.4,1454.0 L1283.4,1454.8 L1286.4,1455.6 L1289.4,1456.4 L1292.4,1457.1 L1295.4,1457.9 L1298.4,1458.6 L1301.4,1459.2 L1304.4,1459.9 L1307.4,1460.5 L1310.4,1461.1 L1313.4,1461.6 L1316.4,1462.2 L1319.4,1462.7 L1322.4,1463.2 L1325.4,1463.6 L1328.4,1464.1 L1331.4,1464.5 L1334.4,1464.9 L1337.4,1465.3 L1340.4,1465.6 L1343.4,1466.0 L1346.4,1466.3 L1349.4,1466.6 L1352.4,1466.9 L1355.4,1467.1 L1358.4,1467.4 L1361.4,1467.6 L1364.4,1467.8 L1367.4,1468.0 L1370.4,1468.2 L1373.4,1468.3 L1376.4,1468.5 L1379.4,1468.6 L1382.4,1468.7 L1385.4,1468.9 L1388.4,1469.0 L1391.4,1469.0 L1394.4,1469.1 L1397.4,1469.2 L1400.4,1469.2 L1403.4,1469.3 L1406.4,1469.3 L1409.4,1469.4 L1412.4,1469.4 L1415.4,1469.4 L1418.4,1469.4 L1421.4,1469.4 L1424.4,1469.4 L1427.4,1469.4 L1430.4,1469.4 L1433.4,1469.4 L1436.4,1469.4 L1439.4,1469.3 L1442.4,1469.3 L1445.4,1469.3 L1448.4,1469.3 L1451.4,1469.2 L1454.4,1469.2 L1457.4,1469.2 L1460.4,1469.2 L1463.4,1469.1 L1466.4,1469.1 L1469.4,1469.1 L1472.4,1469.1 L1475.4,1469.1 L1478.4,1469.0 L1481.4,1469.0 L1484.4,1469.0 L1487.4,1469.0 L1490.4,1469.0 L1493.4,1469.0 L1496.4,1469.0 L1499.4,1469.0 L1502.4,1469.0 L1505.4,1469.0 L1508.4,1469.0 L1511.4,1469.0 L1514.4,1469.0 L1517.4,1469.0 L1520.4,1469.0 L1523.4,1469.0 L1526.4,1469.0 L1529.4,1469.0 L1532.4,1469.0 L1535.4,1469.0 L1538.4,1469.0 L1541.4,1469.1 L1544.4,1469.1 L1547.4,1469.1 L1550.4,1469.1 L1553.4,1469.1 L1556.4,1469.1 L1559.4,1469.1 L1562.4,1469.1 L1565.4,1469.2 L1568.4,1469.2 L1571.4,1469.2 L1574.4,1469.2 L1577.4,1469.2 L1580.4,1469.3 L1583.4,1469.3 L1586.4,1469.3 L1589.4,1469.3 L1592.4,1469.3 L1595.4,1469.4 L1598.4,1469.4 L1601.4,1469.4 L1604.4,1469.4 L1607.4,1469.4 L1610.4,1469.5 L1613.4,1469.5 L1616.4,1469.5 L1619.4,1469.5 L1622.4,1469.5 L1625.4,1469.6 L1628.4,1469.6 L1631.4,1469.6 L1634.4,1469.6 L1637.4,1469.7 L1640.4,1469.7 L1643.4,1469.7 L1646.4,1469.7 L1649.4,1469.7 L1652.4,1469.8 L1655.4,1469.8 L1658.4,1469.8 L1661.4,1469.8 L1664.4,1469.8 L1667.4,1469.8 L1670.4,1469.9 L1673.4,1469.9 L1676.4,1469.9 L1679.4,1469.9 L1682.4,1469.9 L1685.4,1470.0 L1688.4,1470.0 L1691.4,1470.0 L1694.4,1470.0 L1697.4,1470.0 L1700.4,1470.0 L1703.4,1470.1 L1706.4,1470.1 L1709.4,1470.1 L1712.4,1470.1 L1715.4,1470.1 L1718.4,1470.1 L1721.4,1470.1 L1724.4,1470.2 L1727.4,1470.2 L1730.4,1470.2 L1733.4,1470.2 L1736.4,1470.2 L1739.4,1470.2 L1742.4,1470.2 L1745.4,1470.2 L1748.4,1470.3 L1751.4,1470.3 L1754.4,1470.3 L1757.4,1470.3 L1760.4,1470.3 L1763.4,1470.3 L1766.4,1470.3 L1769.4,1470.3 L1772.4,1470.3 L1775.4,1470.4 L1778.4,1470.4 L1781.4,1470.4 L1784.4,1470.4 L1787.4,1470.4 L1790.4,1470.4 L1793.4,1470.4 L1796.4,1470.4 L1799.4,1470.4 L1802.4,1470.4 L1805.4,1470.4 L1808.4,1470.4 L1811.4,1470.5 L1814.4,1470.5 L1817.4,1470.5 L1820.4,1470.5 L1823.4,1470.5 L1826.4,1470.5 L1829.4,1470.5 L1832.4,1470.5 L1835.4,1470.5 L1838.4,1470.5 L1841.4,1470.5 L1844.4,1470.5 L1847.4,1470.5 L1850.4,1470.5 L1853.4,1470.5 L1856.4,1470.5 L1859.4,1470.5 L1862.4,1470.5 L1865.4,1470.5 L1868.4,1470.5 L1871.4,1470.5 L1874.4,1470.5 L1877.4,1470.5 L1880.4,1470.5 L1883.4,1470.5 L1886.4,1470.5 L1889.4,1470.5 L1892.4,1470.5 L1895.4,1470.5 L1898.4,1470.5 L1901.4,1470.5 L1904.4,1470.5 L1907.4,1470.5 L1910.4,1470.5 L1913.4,1470.5 L1916.4,1470.5 L1919.4,1470.5 L1922.4,1470.5 L1925.4,1470.5 L1928.4,1470.5 L1931.4,1470.5 L1934.4,1470.5 L1937.4,1470.4 L1940.4,1470.4 L1943.4,1470.4 L1946.4,1470.4 L1949.4,1470.4 L1952.4,1470.4 L1955.4,1470.4 L1958.4,1470.4 L1961.4,1470.4 L1964.4,1470.4 L1967.4,1470.4 L1970.4,1470.4 L1973.4,1470.3 L1976.4,1470.3 L1979.4,1470.3 L1982.4,1470.3 L1985.4,1470.3 L1987.5,1470.3" stroke="#ff0000"/>
</g>
<path d="M1345,1475.9 H1989" stroke="#7d1414" stroke-width="4.2" fill="none"/>
<path d="M1527,100.6 H1678" stroke="#000000" stroke-width="10.4" stroke-linecap="round" fill="none"/>
<path d="M1527,208 H1678" stroke="#ff0000" stroke-width="10.4" stroke-linecap="round" fill="none"/>
<path d="M1527,314.5 H1678" stroke="#0000ff" stroke-width="10.4" stroke-linecap="round" fill="none"/>
<path d="M1527,421.3 H1678" stroke="#008000" stroke-width="10.4" stroke-linecap="round" fill="none"/>
<text x="1697" y="124.5" class="lg"><tspan class="gm">γ</tspan>-Al<tspan class="sr" dy="26">2</tspan><tspan dx="2.5" dy="-26">O</tspan><tspan class="sr" dx="2" dy="26">3</tspan></text>
<text x="1698" y="230" class="lg">0NiAl<tspan class="sb" dx="3" dy="26.5">cp(400)</tspan></text>
<text x="1698" y="337.5" class="lg">60NiAl<tspan class="sb" dx="3" dy="26.5">wi(400)</tspan></text>
<text x="1698" y="444.4" class="lg">60NiAl<tspan class="sb" dx="3" dy="26.5">cp(400)</tspan></text>
<text x="269" y="1493.8" class="tk" text-anchor="end">0.0</text>
<text x="269" y="1160.1" class="tk" text-anchor="end">0.3</text>
<text x="269" y="826.4" class="tk" text-anchor="end">0.6</text>
<text x="269" y="492.7" class="tk" text-anchor="end">0.9</text>
<text x="269" y="159.0" class="tk" text-anchor="end">1.2</text>
<text x="302.1" y="1561" class="tk" text-anchor="middle">1</text>
<text x="1182.7" y="1561" class="tk" text-anchor="middle">10</text>
<text x="2063.2" y="1561" class="tk" text-anchor="middle">100</text>
<text x="1214.5" y="1698" class="ttl" text-anchor="middle">Pore Width (nm)</text>
<text transform="translate(91.5,775.5) rotate(-90)" class="ttl" text-anchor="middle">dV/dlog(w)</text>
</g></svg></body></html>
